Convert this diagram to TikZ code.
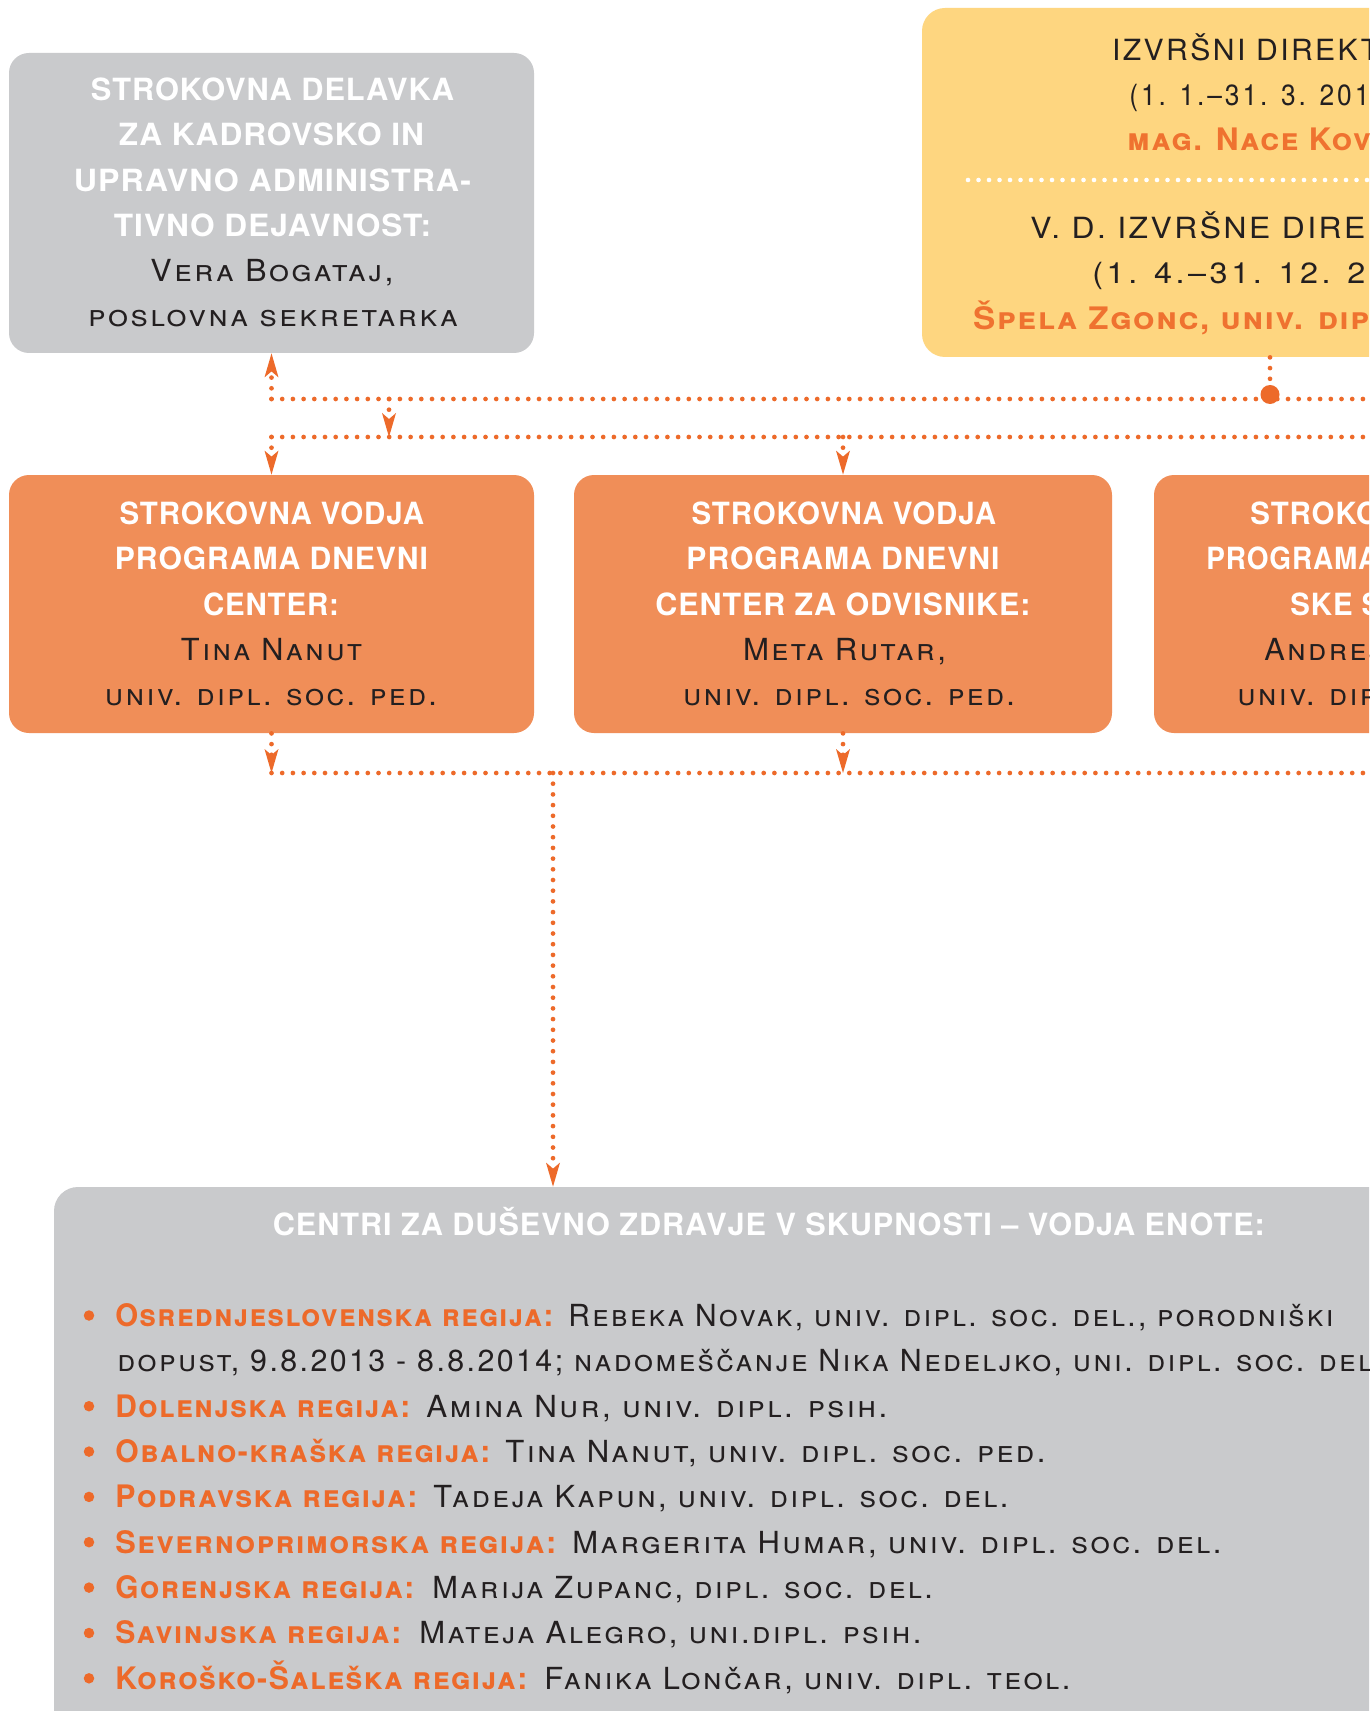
\documentclass[tikz,border=0pt]{standalone}
\usepackage{fontspec}
\usepackage{graphicx}
\usetikzlibrary{arrows.meta}
\setmainfont{TeX Gyre Heros}
\newfontfamily\bodyf{TeX Gyre Heros}[LetterSpace=8]
\newfontfamily\datef{TeX Gyre Heros}[LetterSpace=11]
\newfontfamily\headf{TeX Gyre Heros}[LetterSpace=3]
\newfontfamily\namef{TeX Gyre Heros}[LetterSpace=5]
\definecolor{cgray}{RGB}{201,202,204}
\definecolor{cyel}{RGB}{254,214,128}
\definecolor{cobox}{RGB}{240,142,88}
\definecolor{corg}{RGB}{237,106,42}
\definecolor{ctxt}{RGB}{35,31,32}
\definecolor{cname}{RGB}{239,114,48}
\newdimen\pxu \pxu=0.5pt
\newdimen\fitd
\newsavebox\fitbox
\newcommand\fitw[2]{\resizebox{#1\pxu}{\height}{#2}}
\newcommand\fitpart[3]{\sbox\fitbox{#2}\fitd=\wd\fitbox\pgfmathsetmacro\fitr{#1*0.5/\fitd}\scalebox{\fitr}[1]{#3}}
\tikzset{
  boxbase/.style={rounded corners=10pt, inner sep=0pt, draw=none},
  graybox/.style={boxbase, fill=cgray},
  yelbox/.style={boxbase, rounded corners=11.5pt, fill=cyel},
  orbox/.style={boxbase, fill=cobox},
  txt/.style={inner sep=0pt, anchor=base, text=ctxt, font=\bodyf\fontsize{14.6}{17}\selectfont},
  datetxt/.style={txt, anchor=base west, font=\datef\fontsize{14.6}{17}\selectfont},
  sctxt/.style={txt, font=\bodyf\fontsize{15.2}{17}\selectfont\scshape},
  sctxtw/.style={sctxt, anchor=base west},
  whd/.style={inner sep=0pt, anchor=base, text=white, font=\headf\bfseries\fontsize{15.3}{18}\selectfont},
  nm/.style={inner sep=0pt, anchor=base, text=cname, font=\namef\bfseries\scshape\fontsize{15.5}{17}\selectfont},
  lbl/.style={nm, anchor=base west, text=corg},
  conn/.style={draw=corg, line width=2.35pt, line cap=round, dash pattern=on 0pt off 5.35pt},
  wdots/.style={draw=white, line width=2.3pt, line cap=round, dash pattern=on 0pt off 5.25pt},
  arr/.style={-{Stealth[length=12pt,width=7pt,inset=3pt,line width=0pt]}},
  bul/.style={circle, fill=corg, inner sep=0pt, minimum size=5.25pt},
  junc/.style={circle, fill=corg, inner sep=0pt, minimum size=9.5pt},
}
\begin{document}
\begin{tikzpicture}[x=0.5pt,y=-0.5pt]
\useasboundingbox (0,0) rectangle (1369,1711);
\fill[white] (0,0) rectangle (1369,1711);
\clip (0,0) rectangle (1369,1711);

% boxes
\node (g1) [graybox, minimum width=262.5pt, minimum height=150pt] at (271.5,203) {};
\node (yb) [yelbox, minimum width=289pt, minimum height=174.5pt] at (1211,182.5) {};
\node (o1) [orbox, minimum width=262.5pt, minimum height=129pt] at (271.5,604) {};
\node (o2) [orbox, minimum width=269pt, minimum height=129pt] at (843,604) {};
\node (o3) [orbox, minimum width=273pt, minimum height=129pt] at (1427,604) {};
\node (cz) [graybox, rounded corners=12pt, minimum width=723pt, minimum height=286.5pt] at (777,1473.5) {};

% gray box 1 text
\node (g1a) [whd] at (272.5,100.7) {\fitw{363}{STROKOVNA DELAVKA}};
\node (g1b) [whd] at (271.5,146) {\fitw{305}{ZA KADROVSKO IN}};
\node (g1c) [whd] at (272.5,191.7) {\fitw{397}{UPRAVNO ADMINISTRA-}};
\node (g1d) [whd] at (272.5,236.7) {\fitw{317}{TIVNO DEJAVNOST:}};
\node (g1e) [sctxt] at (272,281.7) {\fitw{243}{Vera Bogataj,}};
\node (g1f) [sctxt] at (273,326.7) {\fitw{370}{poslovna sekretarka}};

% yellow box text
\node (y1) [txt, anchor=base west] at (1111.7,61) {\fitpart{245.7}{IZVRŠNI DIREK}{IZVRŠNI DIREKTOR}};
\node (y2) [datetxt] at (1129,106) {\fitpart{240}{(1. 1.–31. 3. 201}{(1. 1.–31. 3. 2014)}};
\node (y3) [nm, anchor=base west] at (1127,151) {\fitpart{171}{mag. Nace}{mag. Nace Kovač}};
\coordinate (yw1) at (968,180);
\coordinate (yw2) at (1400,180);
\draw[wdots] (yw1) -- (yw2);
\node (y4) [txt, anchor=base west] at (1030,239) {\fitpart{335}{V. D. IZVRŠNE DIRE}{V. D. IZVRŠNE DIREKTORICE}};
\node (y5) [datetxt] at (1092,284) {\fitpart{273}{(1. 4.–31. 12. 2}{(1. 4.–31. 12. 2014)}};
\node (y6) [nm, anchor=base west] at (972.7,330) {\fitpart{396}{Špela Zgonc, univ. dip}{Špela Zgonc, univ. dipl. soc. del.}};

% orange box 1
\node (o1a) [whd] at (271.8,524) {\fitw{304.5}{STROKOVNA VODJA}};
\node (o1b) [whd] at (271.5,569.3) {\fitw{313}{PROGRAMA DNEVNI}};
\node (o1c) [whd] at (271,615) {\fitw{136}{CENTER:}};
\node (o1d) [sctxt] at (271.5,660) {\fitw{181}{Tina Nanut}};
\node (o1e) [sctxt] at (271,705) {\fitw{332}{univ. dipl. soc. ped.}};

% orange box 2
\node (o2a) [whd] at (843.8,524) {\fitw{304.5}{STROKOVNA VODJA}};
\node (o2b) [whd] at (843,569.3) {\fitw{313}{PROGRAMA DNEVNI}};
\node (o2c) [whd] at (843,615) {\fitw{375}{CENTER ZA ODVISNIKE:}};
\node (o2d) [sctxt] at (844.5,660) {\fitw{203}{Meta Rutar,}};
\node (o2e) [sctxt] at (849,705) {\fitw{332}{univ. dipl. soc. ped.}};

% orange box 3 (cut by the edge)
\node (o3a) [whd, anchor=base west] at (1250,524) {\fitw{304.5}{STROKOVNA VODJA}};
\node (o3b) [whd, anchor=base west] at (1206,569.3) {\fitpart{172}{PROGRAMA}{PROGRAMA STANOVANJ-}};
\node (o3c) [whd, anchor=base west] at (1290,615) {\fitpart{136}{CENTER:}{SKE SKUPINE:}};
\node (o3d) [sctxt, anchor=base west] at (1264,660) {\fitpart{181}{Tina Nanut}{Andreja}};
\node (o3e) [sctxt, anchor=base west] at (1237,705) {\fitw{332}{univ. dipl. soc. ped.}};

% bottom box
\node (czh) [whd, anchor=base west] at (272.5,1235.7) {\fitw{992}{CENTRI ZA DUŠEVNO ZDRAVJE V SKUPNOSTI – VODJA ENOTE:}};

\node (l1b) [bul] at (89,1315.5) {};
\node (l1a) [lbl] at (115,1326.3) {\fitw{438}{Osrednjeslovenska regija:}};
\node (l1c) [sctxtw] at (568,1326.3) {\fitw{765}{Rebeka Novak, univ. dipl. soc. del., porodniški}};
\node (l2c) [sctxtw] at (117,1371.7) {\fitpart{1187}{dopust, 9.8.2013 - 8.8.2014; nadomeščanje Nika Nedeljko, uni. dipl. soc.}{dopust, 9.8.2013 - 8.8.2014; nadomeščanje Nika Nedeljko, uni. dipl. soc. del.}};

\node (l3b) [bul] at (89,1406.2) {};
\node (l3a) [lbl] at (115,1417) {\fitw{295}{Dolenjska regija:}};
\node (l3c) [sctxtw] at (426,1417) {\fitw{461}{Amina Nur, univ. dipl. psih.}};

\node (l4b) [bul] at (89,1451.6) {};
\node (l4a) [lbl] at (115,1462.4) {\fitw{375}{Obalno-kraška regija:}};
\node (l4c) [sctxtw] at (505,1462.4) {\fitw{540}{Tina Nanut, univ. dipl. soc. ped.}};

\node (l5b) [bul] at (89,1496.9) {};
\node (l5a) [lbl] at (115,1507.7) {\fitw{302}{Podravska regija:}};
\node (l5c) [sctxtw] at (433,1507.7) {\fitw{575}{Tadeja Kapun, univ. dipl. soc. del.}};

\node (l6b) [bul] at (89,1542.2) {};
\node (l6a) [lbl] at (115,1553) {\fitw{441}{Severnoprimorska regija:}};
\node (l6c) [sctxtw] at (572,1553) {\fitw{649}{Margerita Humar, univ. dipl. soc. del.}};

\node (l7b) [bul] at (89,1587.6) {};
\node (l7a) [lbl] at (115,1598.4) {\fitw{299}{Gorenjska regija:}};
\node (l7c) [sctxtw] at (432,1598.4) {\fitw{500.6}{Marija Zupanc, dipl. soc. del.}};

\node (l8b) [bul] at (89,1633) {};
\node (l8a) [lbl] at (115,1643.8) {\fitw{286}{Savinjska regija:}};
\node (l8c) [sctxtw] at (419,1643.8) {\fitw{502}{Mateja Alegro, uni.dipl. psih.}};

\node (l9b) [bul] at (89,1678.3) {};
\node (l9a) [lbl] at (115,1689.1) {\fitw{412}{Koroško-Šaleška regija:}};
\node (l9c) [sctxtw] at (544,1689.1) {\fitw{526}{Fanika Lončar, univ. dipl. teol.}};

% connectors
\coordinate (a1) at (271.5,399);
\coordinate (r1) at (1385,399);
\coordinate (b1) at (389,399);
\coordinate (b2) at (389,437);
\coordinate (a2) at (271.5,437);
\coordinate (r2) at (1385,437);
\coordinate (c2) at (843,437);
\coordinate (a3) at (271.5,773);
\coordinate (c3) at (843,773);
\coordinate (r3) at (1385,773);
\coordinate (d3) at (553,773);
\node (j1) [junc] at (1270,394.5) {};

\draw[conn] (a1) -- (r1);
\draw[conn, arr] (a1) -- (g1.south);
\draw[conn] (yb.south -| j1) -- (j1);
\draw[conn, arr] (b1) -- (b2);
\draw[conn] (a2) -- (r2);
\draw[conn, arr] (a2) -- (o1.north);
\draw[conn, arr] (c2) -- (o2.north);
\draw[conn, arr] (o1.south) -- (a3);
\draw[conn, arr] (o2.south) -- (c3);
\draw[conn] (a3) -- (r3);
\draw[conn, arr] (d3) -- (cz.north -| d3);
\end{tikzpicture}
\end{document}
